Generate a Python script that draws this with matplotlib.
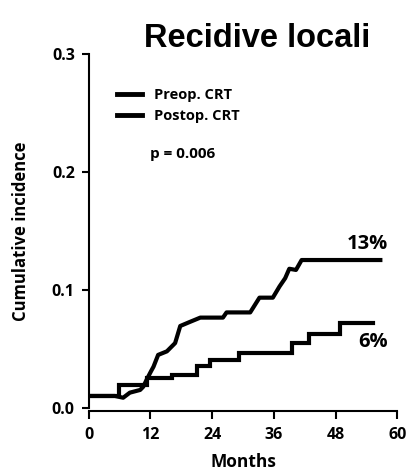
import numpy as np
import matplotlib
matplotlib.use('Agg')
import matplotlib.pyplot as plt

#--- data (months, cumulative incidence) ---
post_m = [0, 5.1, 6.7, 8.0, 10.0, 10.6, 11.3, 12.1, 12.6, 13.5, 15.2, 16.8,
          17.8, 19.7, 21.7, 26.1, 26.8, 31.4, 33.2, 35.8, 37.1, 38.2, 39.0,
          40.3, 41.4, 56.7]
post_v = [0.0102, 0.0102, 0.0087, 0.013, 0.0153, 0.018, 0.0243, 0.031, 0.035,
          0.045, 0.048, 0.055, 0.0695, 0.073, 0.0766, 0.0766, 0.081, 0.081,
          0.0935, 0.0935, 0.103, 0.110, 0.118, 0.117, 0.1254, 0.1254]

pre_m = [0, 5.1, 5.95, 9.85, 11.3, 15.3, 16.1, 21.1, 23.6, 29.3, 39.5, 42.9,
         48.9, 55.3]
pre_v = [0.0102, 0.0102, 0.0195, 0.0195, 0.025, 0.025, 0.028, 0.0359, 0.0407,
         0.0463, 0.0548, 0.0624, 0.0723, 0.0723]

xticks = [0, 12, 24, 36, 48, 60]
yticks = [0.0, 0.1, 0.2, 0.3]
labels = ['Preop. CRT', 'Postop. CRT']
end_pct = ['13%', '6%']

plt.rcParams['font.family'] = ['Open Sans', 'DejaVu Sans']

fig = plt.figure(figsize=(4.08, 4.72), dpi=100)
ax = fig.add_axes([0.2174, 0.1356, 0.7564, 0.75])

# step curves: hold each value until the next time point
ax.step(pre_m, pre_v, where='post', color='black', lw=3, label=labels[0],
        solid_joinstyle='miter')
ax.plot(post_m, post_v, color='black', lw=3, label=labels[1])

ax.set_xlim(0, 60)
ax.set_ylim(0, 0.3)
ax.set_xticks(xticks)
ax.set_yticks(yticks)
ax.set_yticklabels(['%.1f' % t for t in yticks])

for s in ['top', 'right']:
    ax.spines[s].set_visible(False)
ax.spines['left'].set_linewidth(1.5)
ax.spines['bottom'].set_linewidth(1.5)
ax.spines['bottom'].set_position(('outward', 2))
ax.tick_params(axis='y', length=5, width=1.5, pad=5, labelsize=11.5)
ax.tick_params(axis='x', length=6, width=1.5, pad=6, labelsize=11.5)
for t in ax.get_xticklabels() + ax.get_yticklabels():
    t.set_fontweight('bold')

ax.set_xlabel('Months', fontsize=12.5, fontweight='bold', labelpad=7)
ax.set_ylabel('Cumulative incidence', fontsize=12, fontweight='bold', labelpad=16)
ax.set_title('Recidive locali', fontsize=23.5, fontweight='bold', pad=4,
             x=0.545, family='Liberation Sans')

leg = ax.legend(loc='upper left', bbox_to_anchor=(0.05, 0.94), frameon=False,
                handlelength=1.7, handletextpad=0.8, labelspacing=0.45,
                prop={'weight': 'bold', 'size': 10.5})
for h in leg.get_lines():
    h.set_linewidth(3.5)
ax.text(0.2, 0.717, 'p = 0.006', transform=ax.transAxes, fontsize=11,
        fontweight='bold', va='center')

ax.text(58.2, 0.139, end_pct[0], ha='right', va='center', fontsize=14.5,
        fontweight='bold')
ax.text(58.2, 0.056, end_pct[1], ha='right', va='center', fontsize=14.5,
        fontweight='bold')

fig.savefig('out.png', dpi=100)
